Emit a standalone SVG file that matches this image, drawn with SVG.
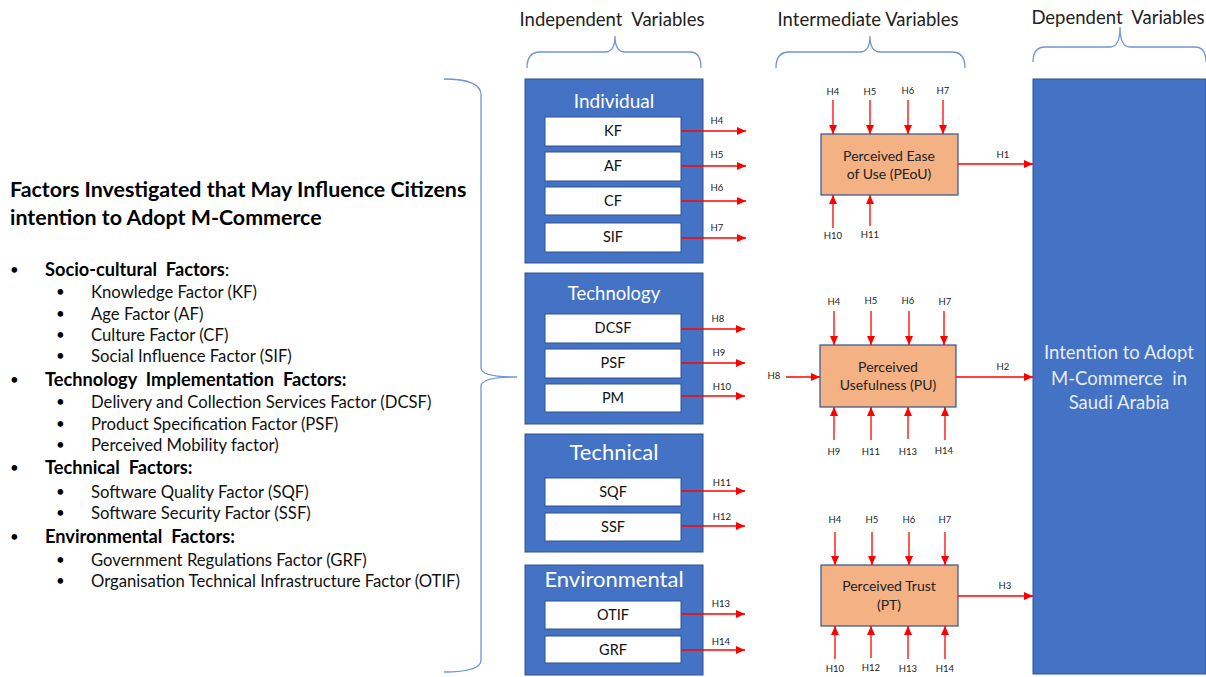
<svg xmlns="http://www.w3.org/2000/svg" width="1206" height="677" viewBox="0 0 1206 677">
<defs>
<marker id="ah" markerUnits="userSpaceOnUse" markerWidth="9" markerHeight="8" refX="9" refY="4" orient="auto">
<path d="M0,0 L9,4 L0,8 z" fill="#FF0000"/>
</marker>
<style>
text{font-family:Lato,"Liberation Sans",sans-serif;white-space:pre;}
.hdr{font-size:18.5px;fill:#222;text-anchor:middle;}
.brace{fill:none;stroke:#6F95D3;stroke-width:1.3;}
.grp{fill:#4472C4;stroke:#2F528F;stroke-width:1;}
.gt{fill:#FFFFFF;text-anchor:middle;}
.inner{fill:#FFFFFF;stroke:#2F528F;stroke-width:1;}
.it{font-size:14.5px;fill:#111;text-anchor:middle;}
.mid{fill:#F4B183;stroke:#2F528F;stroke-width:1.2;}
.mt{font-size:14px;fill:#222;text-anchor:middle;}
.h{font-size:9.5px;fill:#222;text-anchor:middle;}
.ar{stroke:#FF0000;stroke-width:1.3;fill:none;marker-end:url(#ah);}
.title{font-size:21.4px;font-weight:bold;fill:#000;}
.b1{font-size:18.2px;font-weight:bold;fill:#000;}
.b2{font-size:16.7px;fill:#111;}
.dot{font-size:15px;fill:#000;}
.dep{font-size:18.5px;fill:#E6ECF7;text-anchor:middle;}
</style>
</defs>
<rect width="1206" height="677" fill="#FFFFFF"/>

<g id="headers">
<text class="hdr" x="612" y="26">Independent  Variables</text>
<text class="hdr" x="868" y="26">Intermediate Variables</text>
<text class="hdr" x="1118" y="24">Dependent  Variables</text>
<path class="brace" d="M527,68 Q527,52 540,52 L605,52 Q615,52 615,36 Q615,52 625,52 L690,52 Q701,52 701,68"/>
<path class="brace" d="M776,68 Q776,52 789,52 L860,52 Q870,52 870,36 Q870,52 880,52 L952,52 Q965,52 965,68"/>
<path class="brace" d="M1033,62 Q1033,47 1045,47 L1110,47 Q1120,47 1120,27 Q1120,47 1130,47 L1195,47 Q1206,47 1206,62"/>
</g>

<g id="factors-list">
<text class="title" x="10" y="197">Factors Investigated that May Influence Citizens</text>
<text class="title" x="10" y="225">intention to Adopt M-Commerce</text>
<text class="dot" x="10" y="275">•</text><text class="b1" x="45" y="276">Socio-cultural  Factors<tspan font-weight="normal">:</tspan></text>
<text class="dot" x="56" y="297">•</text><text class="b2" x="91" y="298">Knowledge Factor (KF)</text>
<text class="dot" x="56" y="319">•</text><text class="b2" x="91" y="320">Age Factor (AF)</text>
<text class="dot" x="56" y="340">•</text><text class="b2" x="91" y="341">Culture Factor (CF)</text>
<text class="dot" x="56" y="361">•</text><text class="b2" x="91" y="362">Social Influence Factor (SIF)</text>
<text class="dot" x="10" y="385">•</text><text class="b1" x="45" y="386">Technology  Implementation  Factors:</text>
<text class="dot" x="56" y="407">•</text><text class="b2" x="91" y="408">Delivery and Collection Services Factor (DCSF)</text>
<text class="dot" x="56" y="429">•</text><text class="b2" x="91" y="430">Product Specification Factor (PSF)</text>
<text class="dot" x="56" y="450">•</text><text class="b2" x="91" y="451">Perceived Mobility factor)</text>
<text class="dot" x="10" y="473">•</text><text class="b1" x="45" y="474">Technical  Factors:</text>
<text class="dot" x="56" y="497">•</text><text class="b2" x="91" y="498">Software Quality Factor (SQF)</text>
<text class="dot" x="56" y="518">•</text><text class="b2" x="91" y="519">Software Security Factor (SSF)</text>
<text class="dot" x="10" y="542">•</text><text class="b1" x="45" y="543">Environmental  Factors:</text>
<text class="dot" x="56" y="565">•</text><text class="b2" x="91" y="566">Government Regulations Factor (GRF)</text>
<text class="dot" x="56" y="586">•</text><text class="b2" x="91" y="587">Organisation Technical Infrastructure Factor (OTIF)</text>
<path class="brace" d="M444,79 Q481,79 481,95 L481,368 Q481,377 517,377 Q481,377 481,386 L481,660 Q481,672 444,672"/>
</g>

<g id="individual">
<rect class="grp" x="525" y="79" width="178" height="184"/>
<text class="gt" x="614" y="108" font-size="19">Individual</text>
<rect class="inner" x="545" y="117" width="136" height="29"/><text class="it" x="613" y="136">KF</text>
<rect class="inner" x="545" y="152" width="136" height="29"/><text class="it" x="613" y="171">AF</text>
<rect class="inner" x="545" y="187" width="136" height="28"/><text class="it" x="613" y="206">CF</text>
<rect class="inner" x="545" y="223" width="136" height="29"/><text class="it" x="613" y="242">SIF</text>
</g>

<g id="technology">
<rect class="grp" x="525" y="273" width="178" height="151"/>
<text class="gt" x="614" y="300" font-size="18.5">Technology</text>
<rect class="inner" x="545" y="314" width="136" height="29"/><text class="it" x="613" y="333">DCSF</text>
<rect class="inner" x="545" y="349" width="136" height="29"/><text class="it" x="613" y="368">PSF</text>
<rect class="inner" x="545" y="384" width="136" height="28"/><text class="it" x="613" y="403">PM</text>
</g>

<g id="technical">
<rect class="grp" x="525" y="434" width="178" height="118"/>
<text class="gt" x="614" y="460" font-size="22">Technical</text>
<rect class="inner" x="545" y="478" width="136" height="28"/><text class="it" x="613" y="497">SQF</text>
<rect class="inner" x="545" y="513" width="136" height="28"/><text class="it" x="613" y="532">SSF</text>
</g>

<g id="environmental">
<rect class="grp" x="525" y="565" width="178" height="110"/>
<text class="gt" x="614" y="587" font-size="22">Environmental</text>
<rect class="inner" x="545" y="601" width="136" height="28"/><text class="it" x="613" y="620">OTIF</text>
<rect class="inner" x="545" y="636" width="136" height="27"/><text class="it" x="613" y="655">GRF</text>
</g>

<g id="peou">
<rect class="mid" x="821" y="134" width="137" height="61"/>
<text class="mt" x="889" y="161">Perceived Ease</text>
<text class="mt" x="889" y="179">of Use (PEoU)</text>
</g>

<g id="pu">
<rect class="mid" x="820" y="345" width="136" height="62"/>
<text class="mt" x="888" y="372">Perceived</text>
<text class="mt" x="888" y="390">Usefulness (PU)</text>
</g>

<g id="pt">
<rect class="mid" x="821" y="565" width="137" height="61"/>
<text class="mt" x="889" y="591">Perceived Trust</text>
<text class="mt" x="889" y="610">(PT)</text>
</g>

<g id="intention">
<rect x="1033" y="79" width="173" height="595" fill="#4472C4" stroke="#2F528F" stroke-width="1"/>
<text class="dep" x="1119" y="359">Intention to Adopt</text>
<text class="dep" x="1119" y="385">M-Commerce  in</text>
<text class="dep" x="1119" y="409">Saudi Arabia</text>
</g>

<g id="connectors">
<line class="ar" x1="681" y1="131" x2="746" y2="131"/><text class="h" x="717" y="124">H4</text>
<line class="ar" x1="681" y1="166" x2="746" y2="166"/><text class="h" x="717" y="158">H5</text>
<line class="ar" x1="681" y1="201" x2="746" y2="201"/><text class="h" x="717" y="191">H6</text>
<line class="ar" x1="681" y1="238" x2="746" y2="238"/><text class="h" x="717" y="231">H7</text>
<line class="ar" x1="681" y1="329" x2="745" y2="329"/><text class="h" x="718" y="322">H8</text>
<line class="ar" x1="681" y1="363" x2="745" y2="363"/><text class="h" x="719" y="356">H9</text>
<line class="ar" x1="681" y1="396" x2="745" y2="396"/><text class="h" x="722" y="390">H10</text>
<line class="ar" x1="681" y1="491" x2="745" y2="491"/><text class="h" x="722" y="486">H11</text>
<line class="ar" x1="681" y1="526" x2="745" y2="526"/><text class="h" x="722" y="520">H12</text>
<line class="ar" x1="681" y1="614" x2="745" y2="614"/><text class="h" x="721" y="607">H13</text>
<line class="ar" x1="681" y1="650" x2="745" y2="650"/><text class="h" x="721" y="645">H14</text>

<line class="ar" x1="833" y1="100" x2="833" y2="134"/><text class="h" x="833" y="95">H4</text>
<line class="ar" x1="870" y1="100" x2="870" y2="134"/><text class="h" x="870" y="95">H5</text>
<line class="ar" x1="908" y1="100" x2="908" y2="134"/><text class="h" x="908" y="94">H6</text>
<line class="ar" x1="943" y1="100" x2="943" y2="134"/><text class="h" x="943" y="94">H7</text>
<line class="ar" x1="833" y1="228" x2="833" y2="195"/><text class="h" x="833" y="239">H10</text>
<line class="ar" x1="870" y1="226" x2="870" y2="195"/><text class="h" x="870" y="238">H11</text>
<line class="ar" x1="958" y1="164" x2="1033" y2="164"/><text class="h" x="1003" y="158">H1</text>

<line class="ar" x1="834" y1="311" x2="834" y2="345"/><text class="h" x="834" y="305">H4</text>
<line class="ar" x1="871" y1="311" x2="871" y2="345"/><text class="h" x="871" y="304">H5</text>
<line class="ar" x1="909" y1="311" x2="909" y2="345"/><text class="h" x="908" y="304">H6</text>
<line class="ar" x1="944" y1="311" x2="944" y2="345"/><text class="h" x="945" y="305">H7</text>
<line class="ar" x1="786" y1="377" x2="820" y2="377"/><text class="h" x="774" y="379">H8</text>
<line class="ar" x1="834" y1="440" x2="834" y2="407"/><text class="h" x="834" y="455">H9</text>
<line class="ar" x1="871" y1="440" x2="871" y2="407"/><text class="h" x="871" y="455">H11</text>
<line class="ar" x1="908" y1="439" x2="908" y2="407"/><text class="h" x="908" y="455">H13</text>
<line class="ar" x1="945" y1="440" x2="945" y2="407"/><text class="h" x="944" y="454">H14</text>
<line class="ar" x1="956" y1="377" x2="1033" y2="377"/><text class="h" x="1003" y="370">H2</text>

<line class="ar" x1="835" y1="532" x2="835" y2="565"/><text class="h" x="835" y="523">H4</text>
<line class="ar" x1="872" y1="532" x2="872" y2="565"/><text class="h" x="872" y="523">H5</text>
<line class="ar" x1="909" y1="532" x2="909" y2="565"/><text class="h" x="909" y="523">H6</text>
<line class="ar" x1="945" y1="532" x2="945" y2="565"/><text class="h" x="945" y="523">H7</text>
<line class="ar" x1="835" y1="659" x2="835" y2="626"/><text class="h" x="835" y="672">H10</text>
<line class="ar" x1="871" y1="658" x2="871" y2="626"/><text class="h" x="871" y="671">H12</text>
<line class="ar" x1="908" y1="659" x2="908" y2="626"/><text class="h" x="908" y="672">H13</text>
<line class="ar" x1="945" y1="659" x2="945" y2="626"/><text class="h" x="945" y="672">H14</text>
<line class="ar" x1="958" y1="596" x2="1033" y2="596"/><text class="h" x="1005" y="589">H3</text>
</g>
</svg>
